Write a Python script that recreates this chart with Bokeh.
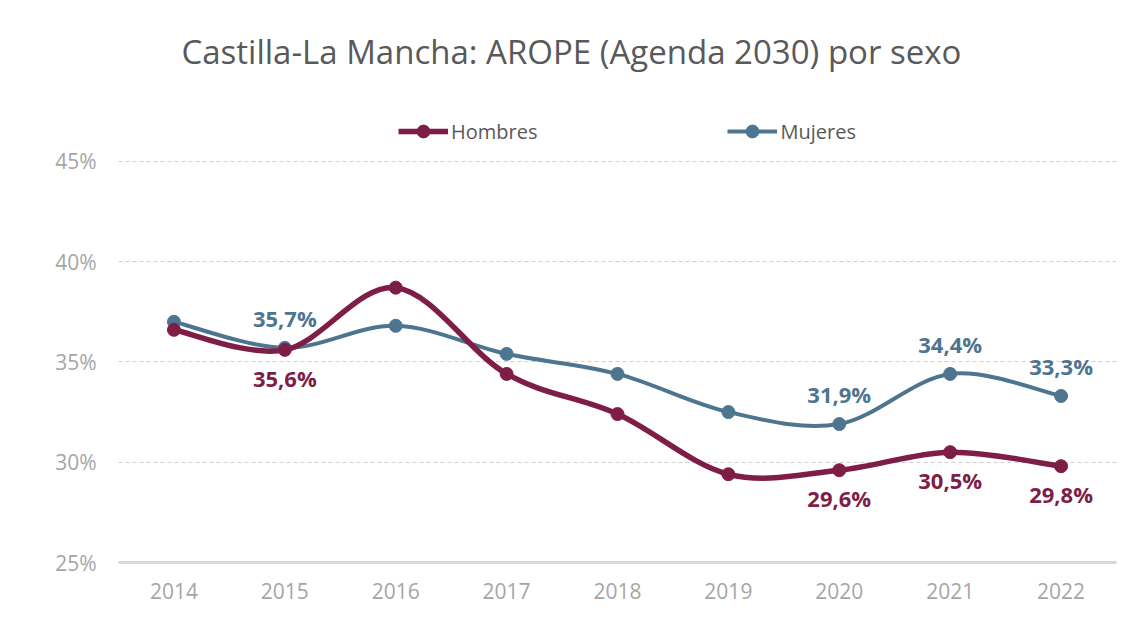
from bokeh.plotting import figure
from bokeh.models import Range1d, FixedTicker, PrintfTickFormatter, Legend, LegendItem, ColumnDataSource
from bokeh.embed import file_html
from bokeh.resources import INLINE

years = [2014, 2015, 2016, 2017, 2018, 2019, 2020, 2021, 2022]
hombres = [36.6, 35.6, 38.7, 34.4, 32.4, 29.4, 29.6, 30.5, 29.8]
mujeres = [37.0, 35.7, 36.8, 35.4, 34.4, 32.5, 31.9, 34.4, 33.3]
label_years = [2015, 2020, 2021, 2022]
y_ticks = [25, 30, 35, 40, 45]

C_H = "#7e1e46"
C_M = "#4e7590"
FONT = "Open Sans"

p = figure(width=1124, height=613, output_backend="svg", toolbar_location=None,
           x_range=Range1d(2013.5, 2022.5), y_range=Range1d(25, 48.03),
           min_border_left=118, min_border_right=8, min_border_bottom=51, min_border_top=99)

p.title.text = "Castilla-La Mancha: AROPE (Agenda 2030) por sexo"
p.title.align = "left"
p.title.offset = 63
p.title.standoff = 53
p.title.text_font = FONT
p.title.text_font_size = "33px"
p.title.text_font_style = "normal"
p.title.text_color = "#595959"
p.outline_line_color = None


def smooth(xs, ys):
    n = len(xs)
    d = dict(x0=[], y0=[], x1=[], y1=[], cx0=[], cy0=[], cx1=[], cy1=[])
    for i in range(n - 1):
        p0 = (xs[max(i - 1, 0)], ys[max(i - 1, 0)])
        p1 = (xs[i], ys[i])
        p2 = (xs[i + 1], ys[i + 1])
        p3 = (xs[min(i + 2, n - 1)], ys[min(i + 2, n - 1)])
        d["x0"].append(p1[0]); d["y0"].append(p1[1])
        d["x1"].append(p2[0]); d["y1"].append(p2[1])
        d["cx0"].append(p1[0] + (p2[0] - p0[0]) / 6); d["cy0"].append(p1[1] + (p2[1] - p0[1]) / 6)
        d["cx1"].append(p2[0] - (p3[0] - p1[0]) / 6); d["cy1"].append(p2[1] - (p3[1] - p1[1]) / 6)
    return ColumnDataSource(d)


p.xgrid.grid_line_color = None
p.ygrid.grid_line_color = "#d0d0d0"
p.ygrid.grid_line_dash = "4 3"
p.ygrid.grid_line_width = 1.2

items = []
for name, vals, col, lw in [("Mujeres", mujeres, C_M, 4), ("Hombres", hombres, C_H, 5.5)]:
    b = p.bezier(x0="x0", y0="y0", x1="x1", y1="y1", cx0="cx0", cy0="cy0", cx1="cx1", cy1="cy1",
                 source=smooth(years, vals), line_color=col, line_width=lw)
    s = p.scatter(years, vals, size=13, marker="circle", fill_color=col, line_color=col)
    items.append(LegendItem(label=name, renderers=[b, s]))

items = items[::-1]

for vals, col, off in [(hombres, C_H, 28), (mujeres, C_M, -30)]:
    lx = [y for y in years if y in label_years]
    ly = [v for y, v in zip(years, vals) if y in label_years]
    txt = [("%.1f%%" % v).replace(".", ",") for v in ly]
    p.text(lx, ly, text=txt, text_color=col, text_font_size="22px", text_font_style="bold",
           text_align="center", text_baseline="middle", y_offset=off, text_font={"value": FONT})

legend = Legend(items=items, orientation="horizontal", location=(280, 415),
                label_text_font=FONT, label_text_font_size="20px", label_text_color="#595959",
                glyph_width=50, glyph_height=32, label_standoff=3, spacing=190,
                border_line_color=None, background_fill_alpha=0, padding=0, margin=0)
p.add_layout(legend)

p.xaxis.ticker = FixedTicker(ticks=years)
p.yaxis.ticker = FixedTicker(ticks=y_ticks)
p.yaxis.formatter = PrintfTickFormatter(format="%d%%")
for ax in (p.xaxis, p.yaxis):
    ax.major_tick_line_color = None
    ax.minor_tick_line_color = None
    ax.major_tick_out = 0
    ax.major_tick_in = 0
    ax.major_label_text_font = FONT
    ax.major_label_text_font_size = "21px"
    ax.major_label_text_color = "#a6a6a6"
p.yaxis.axis_line_color = None
p.yaxis.major_label_standoff = 22
p.xaxis.axis_line_color = "#d9d9d9"
p.xaxis.axis_line_width = 3
p.xaxis.major_label_standoff = 20

open("out.html", "w").write(file_html(p, INLINE))
